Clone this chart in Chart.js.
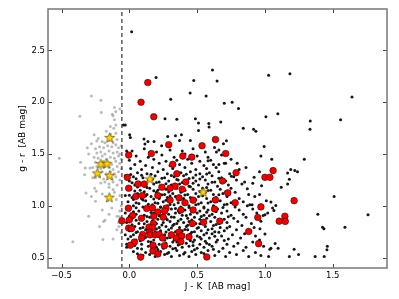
<!DOCTYPE html>
<html>
<head>
<meta charset="utf-8">
<script src="https://cdn.jsdelivr.net/npm/chart.js@4.4.1/dist/chart.umd.min.js"></script>
<style>
  html, body { margin: 0; padding: 0; background: #fff; }
  #wrap { width: 399px; height: 299px; }
</style>
</head>
<body>
<div id="wrap"><canvas id="colorChart"></canvas></div>
<script>
// J - K vs g - r
const xTicks = [-0.5, 0.0, 0.5, 1.0, 1.5];
const yTicks = [0.5, 1.0, 1.5, 2.0, 2.5];
const cutJK = -0.055;

const starPts = [[-0.21,1.407],[-0.165,1.41],[-0.236,1.317],[-0.145,1.294],[-0.148,1.083],
  [0.152,1.26],[-0.145,1.66],[0.544,1.135]];

const redPts = [[0.136,2.19],[0.086,2.00],[0.18,1.86],[0.29,1.59],[0.635,1.64],[0.536,1.58],
  [-0.005,1.49],[0.162,1.505],[0.394,1.48],[0.46,1.47],[0.32,1.40],[0.35,1.31],[-0.015,1.275],
  [0.064,1.21],[0.11,1.21],[-0.005,1.17],[0.24,1.18],[0.337,1.19],[0.416,1.23],[0.30,1.17],
  [0.39,1.16],[0.047,1.09],[0.096,1.10],[0.21,1.10],[0.30,1.055],[0.366,1.077],[0.47,1.055],
  [0.41,1.03],[-0.007,0.977],[0.128,0.974],[0.17,0.98],[0.27,0.977],[0.26,0.95],[0.38,0.96],
  [0.47,0.96],[0.024,0.907],[0.21,0.94],[0.18,0.90],[0.25,0.89],[0.0,0.865],[-0.055,0.855],
  [0.089,0.88],[0.177,0.83],[0.465,0.83],[-0.005,0.785],[0.015,0.78],[0.145,0.795],[0.17,0.79],
  [0.148,0.746],[0.098,0.724],[0.152,0.72],[0.19,0.72],[0.22,0.724],[0.244,0.69],[0.31,0.72],
  [0.347,0.69],[0.366,0.746],[0.386,0.71],[0.44,0.70],[0.09,0.69],[0.037,0.65],[0.007,0.62],
  [0.174,0.62],[0.258,0.615],[0.38,0.654],[0.174,0.565],[0.21,0.535],[0.083,0.505],[0.71,1.505],
  [0.787,1.32],[0.687,1.24],[0.726,1.125],[0.635,1.057],[0.78,1.03],[0.628,0.97],[0.97,0.99],
  [0.547,0.842],[0.667,0.852],[0.947,0.888],[0.88,0.753],[0.953,0.635],[0.571,0.506],[1.0,1.275],
  [1.036,1.275],[1.06,1.34],[1.215,1.05],[1.105,0.852],[1.147,0.90],[1.15,0.85]];

// sparse outliers
const blackOuter = [[0.017,2.68],[0.197,2.24],[0.475,2.21],[0.448,2.09],[0.305,2.03],[0.263,1.84],
  [0.35,1.835],[0.487,1.84],[0.51,1.80],[-0.044,1.78],[-0.03,1.78],[0.002,1.685],[0.007,1.66],
  [0.108,1.644],[0.137,1.62],[0.182,1.62],[0.115,1.596],[0.238,1.58],[0.283,1.67],[0.34,1.676],
  [0.384,1.686],[0.37,1.63],[0.45,1.63],[0.51,1.727],[0.613,2.31],[0.647,2.205],[1.027,2.26],
  [1.184,2.275],[0.566,2.06],[0.70,1.99],[0.758,2.0],[0.805,1.94],[1.642,2.05],[1.007,1.86],
  [1.095,1.89],[1.334,1.82],[1.558,1.83],[1.332,1.74],[0.674,1.81],[0.586,1.794],[0.588,1.76],
  [0.84,1.75],[0.916,1.74],[0.933,1.72],[0.716,1.628],[0.694,1.60],[0.628,1.563],[0.994,1.573],
  [0.642,1.52],[0.97,1.48],[1.05,1.45],[0.58,1.435],[0.66,1.40],[0.71,1.41],[0.795,1.41],
  [0.86,1.37],[0.96,1.33],[1.167,1.317],[1.19,1.35],[1.22,1.34],[1.24,1.33],[1.18,1.256],
  [1.167,1.21],[1.12,1.18],[0.92,1.275],[0.91,1.217],[0.975,1.195],[0.85,1.23],[0.753,1.285],
  [0.79,1.25],[0.87,1.166],[1.29,1.45],[1.51,1.09],[1.39,0.92],[1.76,0.913],[1.425,0.794],
  [1.435,0.78],[1.59,0.794],[1.46,0.61],[1.457,0.577],[1.37,0.51],[1.437,0.51],[1.215,0.58],
  [1.248,0.53],[1.18,0.51],[1.097,0.59],[1.044,0.59],[1.027,0.512],[0.963,0.78],[0.97,0.852],
  [0.987,0.906],[1.02,0.93],[1.056,0.98],[1.066,0.955],[1.08,1.003],[1.044,1.038],[1.01,1.05],
  [0.96,1.11],[0.925,1.09],[0.905,1.01],[0.888,1.01],[1.0,0.727],[1.075,0.637],[1.036,0.58],
  [1.0,0.913],[-0.03,0.93],[-0.03,0.72],[-0.02,0.63],[-0.03,1.29],[-0.02,1.53],[-0.03,1.10]];

// main cloud
const blackCore = [
  [0.10,0.52],[0.19,0.51],[0.26,0.53],[0.31,0.51],[0.37,0.52],[0.44,0.51],[0.49,0.53],[0.63,0.52],[0.71,0.51],[0.79,0.53],[0.88,0.51],[0.97,0.52],
  [0.03,0.56],[0.12,0.55],[0.17,0.57],[0.23,0.56],[0.29,0.55],[0.35,0.57],[0.41,0.55],[0.46,0.56],[0.53,0.55],[0.58,0.57],[0.66,0.56],[0.74,0.55],[0.84,0.57],[0.93,0.55],
  [-0.02,0.60],[0.06,0.59],[0.14,0.61],[0.20,0.60],[0.25,0.59],[0.30,0.61],[0.34,0.59],[0.39,0.60],[0.44,0.61],[0.50,0.59],[0.55,0.60],[0.61,0.61],[0.69,0.59],[0.77,0.61],[0.86,0.60],[0.99,0.61],
  [0.02,0.64],[0.09,0.63],[0.16,0.65],[0.22,0.63],[0.27,0.64],[0.32,0.65],[0.37,0.63],[0.42,0.64],[0.47,0.65],[0.52,0.63],[0.57,0.64],[0.64,0.65],[0.72,0.63],[0.80,0.64],[0.91,0.65],
  [-0.01,0.68],[0.05,0.67],[0.11,0.69],[0.18,0.67],[0.24,0.68],[0.28,0.69],[0.33,0.67],[0.38,0.68],[0.43,0.69],[0.48,0.67],[0.53,0.68],[0.59,0.69],[0.65,0.67],[0.73,0.68],[0.82,0.69],[0.96,0.67],
  [0.03,0.72],[0.08,0.71],[0.14,0.73],[0.21,0.71],[0.26,0.72],[0.31,0.73],[0.35,0.71],[0.40,0.72],[0.45,0.73],[0.50,0.71],[0.55,0.72],[0.61,0.73],[0.68,0.71],[0.76,0.72],[0.85,0.73],[0.93,0.71],
  [0.00,0.76],[0.06,0.75],[0.12,0.77],[0.19,0.75],[0.23,0.76],[0.29,0.77],[0.34,0.75],[0.39,0.76],[0.43,0.77],[0.48,0.75],[0.53,0.76],[0.58,0.77],[0.63,0.75],[0.70,0.76],[0.79,0.77],[0.89,0.75],
  [0.04,0.80],[0.10,0.79],[0.16,0.81],[0.22,0.79],[0.27,0.80],[0.32,0.81],[0.37,0.79],[0.42,0.80],[0.46,0.81],[0.51,0.79],[0.56,0.80],[0.62,0.81],[0.67,0.79],[0.74,0.80],[0.83,0.81],[0.92,0.79],
  [-0.02,0.84],[0.07,0.83],[0.13,0.85],[0.20,0.83],[0.25,0.84],[0.30,0.85],[0.35,0.83],[0.40,0.84],[0.44,0.85],[0.49,0.83],[0.54,0.84],[0.60,0.85],[0.66,0.83],[0.72,0.84],[0.80,0.85],[0.90,0.83],
  [0.02,0.88],[0.09,0.87],[0.15,0.89],[0.21,0.87],[0.27,0.88],[0.33,0.89],[0.38,0.87],[0.43,0.88],[0.48,0.89],[0.52,0.87],[0.57,0.88],[0.63,0.89],[0.70,0.87],[0.77,0.88],[0.86,0.89],
  [0.05,0.92],[0.11,0.91],[0.18,0.93],[0.24,0.91],[0.29,0.92],[0.34,0.93],[0.39,0.91],[0.45,0.92],[0.50,0.93],[0.55,0.91],[0.61,0.92],[0.68,0.93],[0.75,0.91],[0.84,0.92],[0.94,0.93],
  [0.00,0.96],[0.07,0.95],[0.14,0.97],[0.20,0.95],[0.26,0.96],[0.31,0.97],[0.36,0.95],[0.41,0.96],[0.46,0.97],[0.52,0.95],[0.58,0.96],[0.65,0.97],[0.72,0.95],[0.81,0.96],[0.91,0.97],
  [0.03,1.00],[0.10,0.99],[0.17,1.01],[0.23,0.99],[0.28,1.00],[0.33,1.01],[0.38,0.99],[0.44,1.00],[0.49,1.01],[0.55,0.99],[0.62,1.00],[0.70,1.01],[0.78,0.99],[0.87,1.00],
  [-0.01,1.04],[0.05,1.03],[0.12,1.05],[0.19,1.03],[0.25,1.04],[0.31,1.05],[0.36,1.03],[0.42,1.04],[0.47,1.05],[0.53,1.03],[0.60,1.04],[0.67,1.05],[0.75,1.03],[0.84,1.04],
  [0.02,1.08],[0.09,1.07],[0.16,1.09],[0.22,1.07],[0.28,1.08],[0.34,1.09],[0.40,1.07],[0.45,1.08],[0.51,1.09],[0.57,1.07],[0.64,1.08],[0.72,1.09],[0.81,1.07],
  [0.06,1.12],[0.13,1.11],[0.20,1.13],[0.26,1.11],[0.32,1.12],[0.38,1.13],[0.43,1.11],[0.49,1.12],[0.56,1.13],[0.62,1.11],[0.69,1.12],[0.78,1.13],[0.88,1.11],
  [0.01,1.16],[0.08,1.15],[0.15,1.17],[0.21,1.15],[0.27,1.16],[0.35,1.17],[0.41,1.15],[0.47,1.16],[0.54,1.17],[0.60,1.15],[0.67,1.16],[0.75,1.17],
  [0.04,1.20],[0.11,1.19],[0.18,1.21],[0.25,1.19],[0.31,1.20],[0.37,1.21],[0.44,1.19],[0.51,1.20],[0.58,1.21],[0.65,1.19],[0.73,1.20],[0.83,1.21],
  [0.00,1.24],[0.07,1.23],[0.14,1.25],[0.22,1.23],[0.29,1.24],[0.36,1.25],[0.42,1.23],[0.49,1.24],[0.56,1.25],[0.63,1.23],[0.71,1.24],
  [0.03,1.28],[0.10,1.27],[0.19,1.29],[0.26,1.27],[0.33,1.28],[0.40,1.29],[0.47,1.27],[0.54,1.28],[0.61,1.29],[0.68,1.27],[0.77,1.28],
  [0.06,1.32],[0.13,1.31],[0.21,1.33],[0.28,1.31],[0.38,1.32],[0.45,1.33],[0.52,1.31],[0.59,1.32],[0.66,1.33],[0.74,1.31],
  [0.01,1.36],[0.09,1.35],[0.17,1.37],[0.25,1.35],[0.32,1.36],[0.41,1.37],[0.49,1.35],[0.57,1.36],[0.64,1.37],[0.81,1.35],
  [0.04,1.40],[0.12,1.39],[0.22,1.41],[0.30,1.39],[0.37,1.40],[0.46,1.41],[0.55,1.39],[0.62,1.40],[0.70,1.41],
  [0.00,1.44],[0.08,1.43],[0.18,1.45],[0.27,1.43],[0.35,1.44],[0.43,1.45],[0.52,1.43],[0.60,1.44],[0.75,1.45],
  [0.05,1.48],[0.14,1.47],[0.24,1.49],[0.33,1.47],[0.41,1.50],[0.50,1.48],[0.58,1.47],[0.68,1.49],
  [0.02,1.53],[0.11,1.55],[0.20,1.52],[0.30,1.54],[0.39,1.53],[0.47,1.55],[0.56,1.52],[0.66,1.54]];

// denser inner part of the cloud, in between the rows above
const blackInner = [
  [0.06,0.537],[0.15,0.531],[0.28,0.539],[0.40,0.534],[0.55,0.541],
  [0.09,0.583],[0.21,0.578],[0.32,0.586],[0.48,0.575],[0.62,0.582],
  [0.04,0.618],[0.18,0.624],[0.27,0.613],[0.36,0.621],[0.47,0.616],[0.59,0.627],
  [0.08,0.662],[0.14,0.655],[0.26,0.667],[0.35,0.652],[0.45,0.664],[0.56,0.658],[0.70,0.666],
  [0.01,0.703],[0.12,0.697],[0.23,0.706],[0.30,0.694],[0.38,0.702],[0.52,0.698],[0.63,0.707],
  [0.05,0.742],[0.16,0.736],[0.27,0.747],[0.37,0.733],[0.46,0.744],[0.57,0.738],[0.66,0.745],
  [0.08,0.783],[0.20,0.776],[0.31,0.787],[0.41,0.772],[0.50,0.784],[0.61,0.779],[0.72,0.786],
  [0.02,0.818],[0.11,0.826],[0.24,0.815],[0.33,0.823],[0.43,0.812],[0.52,0.827],[0.64,0.819],
  [0.05,0.862],[0.17,0.855],[0.28,0.866],[0.36,0.853],[0.46,0.864],[0.55,0.857],[0.67,0.868],
  [0.00,0.902],[0.13,0.896],[0.22,0.905],[0.31,0.893],[0.42,0.907],[0.53,0.898],[0.59,0.904],[0.73,0.895],
  [0.03,0.943],[0.16,0.936],[0.27,0.947],[0.37,0.934],[0.48,0.945],[0.57,0.939],[0.64,0.946],
  [0.05,0.982],[0.12,0.976],[0.23,0.986],[0.34,0.974],[0.44,0.984],[0.55,0.978],[0.69,0.985],
  [0.07,1.022],[0.14,1.016],[0.21,1.026],[0.30,1.013],[0.40,1.024],[0.51,1.018],[0.58,1.027],[0.72,1.015],
  [0.03,1.062],[0.10,1.056],[0.18,1.066],[0.27,1.053],[0.38,1.064],[0.49,1.058],[0.62,1.067],
  [0.00,1.102],[0.12,1.096],[0.24,1.106],[0.30,1.094],[0.41,1.104],[0.54,1.098],[0.66,1.107],
  [0.04,1.143],[0.11,1.136],[0.18,1.146],[0.29,1.134],[0.39,1.145],[0.52,1.138],[0.58,1.147],[0.71,1.135],
  [0.06,1.182],[0.13,1.176],[0.23,1.186],[0.33,1.174],[0.45,1.184],[0.57,1.178],
  [0.02,1.222],[0.09,1.216],[0.20,1.226],[0.27,1.214],[0.39,1.225],[0.47,1.218],[0.61,1.227],
  [0.05,1.262],[0.17,1.256],[0.24,1.266],[0.35,1.254],[0.44,1.264],[0.52,1.258],[0.66,1.267],
  [0.01,1.302],[0.09,1.296],[0.16,1.306],[0.31,1.294],[0.42,1.304],[0.49,1.298],[0.57,1.307]];

const grayPts = [[-0.28,2.06],[-0.21,2.02],[-0.365,1.865],[-0.11,1.95],[-0.10,1.91],[-0.07,1.935],
  [-0.12,1.87],[-0.11,1.83],[-0.10,1.78],[-0.115,1.75],[-0.207,1.90],[-0.126,1.885],[-0.14,1.765],
  [-0.517,1.46],[-0.26,1.685],[-0.28,1.60],[-0.23,1.65],[-0.18,1.61],[-0.24,1.625],[-0.417,0.654],
  [-0.195,0.676],[-0.12,0.68],[-0.092,0.77],[-0.077,0.80],[-0.072,0.894],[-0.09,0.90],[-0.18,0.86],
  [-0.19,0.85],[-0.2,0.96],[-0.25,1.045],[-0.32,1.125],[-0.28,1.09],[-0.244,1.14],[-0.256,1.17],
  [-0.2,1.115],[-0.12,1.157],[-0.096,1.06],[-0.06,1.00],[-0.07,0.95],[-0.29,1.365],[-0.325,1.365],
  [-0.27,1.27],[-0.36,1.42],[-0.33,1.30],[-0.30,1.50],[-0.31,1.56],
  [-0.25,1.55],[-0.22,1.57],[-0.19,1.56],[-0.16,1.58],[-0.13,1.57],[-0.10,1.59],[-0.08,1.56],[-0.06,1.58],
  [-0.24,1.51],[-0.21,1.52],[-0.18,1.50],[-0.15,1.53],[-0.12,1.51],[-0.09,1.52],[-0.07,1.50],
  [-0.26,1.47],[-0.23,1.46],[-0.20,1.48],[-0.17,1.45],[-0.14,1.47],[-0.11,1.46],[-0.08,1.48],[-0.06,1.45],
  [-0.25,1.42],[-0.22,1.41],[-0.19,1.43],[-0.16,1.42],[-0.13,1.40],[-0.10,1.43],[-0.07,1.41],
  [-0.27,1.37],[-0.24,1.38],[-0.21,1.36],[-0.18,1.38],[-0.15,1.37],[-0.12,1.35],[-0.09,1.38],[-0.06,1.36],
  [-0.23,1.32],[-0.20,1.33],[-0.17,1.31],[-0.14,1.33],[-0.11,1.31],[-0.08,1.33],
  [-0.25,1.27],[-0.22,1.28],[-0.19,1.26],[-0.16,1.28],[-0.13,1.26],[-0.10,1.28],[-0.07,1.25],
  [-0.21,1.22],[-0.18,1.23],[-0.15,1.21],[-0.12,1.23],[-0.09,1.20],
  [-0.20,1.62],[-0.15,1.63],[-0.12,1.61],[-0.09,1.64],[-0.14,1.69],[-0.10,1.70],[-0.17,1.72],
  [-0.15,1.18],[-0.11,1.13],[-0.07,1.10],[-0.16,1.05],[-0.13,0.98],[-0.08,0.84],[-0.06,0.74],
  [-0.22,0.80],[-0.30,0.90],[-0.15,0.92]];

const toXY = arr => arr.map(p => ({x: p[0], y: p[1]}));

function makeStar(r) {
    const c = document.createElement('canvas');
    const s = Math.ceil(r * 2 + 2);
    c.width = s; c.height = s;
    const g = c.getContext('2d');
    g.translate(s / 2, s / 2 + r * 0.1);
    g.beginPath();
    for (let i = 0; i < 10; i++) {
        const rad = i % 2 === 0 ? r : r * 0.42;
        const a = -Math.PI / 2 + i * Math.PI / 5;
        g.lineTo(rad * Math.cos(a), rad * Math.sin(a));
    }
    g.closePath();
    g.fillStyle = '#ffd400';
    g.fill();
    g.lineWidth = 0.7;
    g.strokeStyle = '#5a4800';
    g.stroke();
    return c;
}

const fmt = v => (v < 0 ? '\u2212' + Math.abs(v).toFixed(1) : v.toFixed(1));

// frame + inward ticks on all four sides, matplotlib style
const frameTicks = {
    id: 'frameTicks',
    afterDraw(chart) {
        const {ctx, chartArea: a, scales} = chart;
        ctx.save();
        ctx.strokeStyle = '#444';
        ctx.lineWidth = 1;
        ctx.beginPath();
        xTicks.forEach(v => {
            const px = Math.round(scales.x.getPixelForValue(v)) + 0.5;
            ctx.moveTo(px, a.bottom); ctx.lineTo(px, a.bottom - 4);
            ctx.moveTo(px, a.top); ctx.lineTo(px, a.top + 4);
        });
        yTicks.forEach(v => {
            const py = Math.round(scales.y.getPixelForValue(v)) + 0.5;
            ctx.moveTo(a.left, py); ctx.lineTo(a.left + 4, py);
            ctx.moveTo(a.right, py); ctx.lineTo(a.right - 4, py);
        });
        ctx.stroke();
        ctx.strokeStyle = '#777';
        ctx.lineWidth = 1.5;
        ctx.strokeRect(a.left, a.top, a.right - a.left, a.bottom - a.top);
        ctx.restore();
    }
};

const ctx = document.getElementById('colorChart');
new Chart(ctx, {
    type: 'scatter',
    data: {
        datasets: [
            {
                data: toXY(starPts),
                pointStyle: makeStar(5.2),
                order: 0
            },
            {
                data: toXY(redPts),
                backgroundColor: '#f00000',
                borderColor: '#3a0000',
                borderWidth: 0.6,
                pointRadius: 3.3,
                order: 1
            },
            {
                type: 'line',
                data: [{x: cutJK, y: 0.4}, {x: cutJK, y: 2.9}],
                borderColor: '#222',
                borderWidth: 1.1,
                borderDash: [4, 3],
                pointRadius: 0,
                showLine: true,
                order: 2
            },
            {
                data: toXY(blackOuter.concat(blackCore, blackInner)),
                backgroundColor: '#161616',
                borderWidth: 0,
                pointRadius: 1.5,
                order: 3
            },
            {
                data: toXY(grayPts),
                backgroundColor: 'rgba(150,150,150,0.65)',
                borderWidth: 0,
                pointRadius: 1.5,
                order: 4
            }
        ]
    },
    options: {
        responsive: true,
        maintainAspectRatio: false,
        animation: false,
        layout: { padding: { top: 9, right: 12, left: 0, bottom: 0 } },
        plugins: {
            legend: { display: false },
            tooltip: { enabled: false }
        },
        scales: {
            x: {
                type: 'linear',
                min: -0.6,
                max: 1.9,
                afterBuildTicks: s => { s.ticks = xTicks.map(v => ({value: v})); },
                afterFit: s => { s.height = 31; },
                grid: { display: false, drawTicks: false },
                border: { display: false },
                ticks: {
                    padding: 3,
                    color: '#000',
                    font: { family: 'DejaVu Sans', size: 8.5 },
                    callback: v => fmt(v)
                },
                title: {
                    display: true,
                    text: 'J - K  [AB mag]',
                    color: '#000',
                    font: { family: 'DejaVu Sans', size: 9 },
                    padding: { top: 0, bottom: 6.6 }
                }
            },
            y: {
                type: 'linear',
                min: 0.4,
                max: 2.9,
                afterBuildTicks: s => { s.ticks = yTicks.map(v => ({value: v})); },
                afterFit: s => { s.width = 48; },
                grid: { display: false, drawTicks: false },
                border: { display: false },
                ticks: {
                    padding: 3,
                    color: '#000',
                    font: { family: 'DejaVu Sans', size: 8.5 },
                    callback: v => fmt(v)
                },
                title: {
                    display: true,
                    text: 'g - r  [AB mag]',
                    color: '#000',
                    font: { family: 'DejaVu Sans', size: 9 },
                    padding: { top: 17.6, bottom: 0 }
                }
            }
        }
    },
    plugins: [frameTicks]
});
</script>
</body>
</html>
